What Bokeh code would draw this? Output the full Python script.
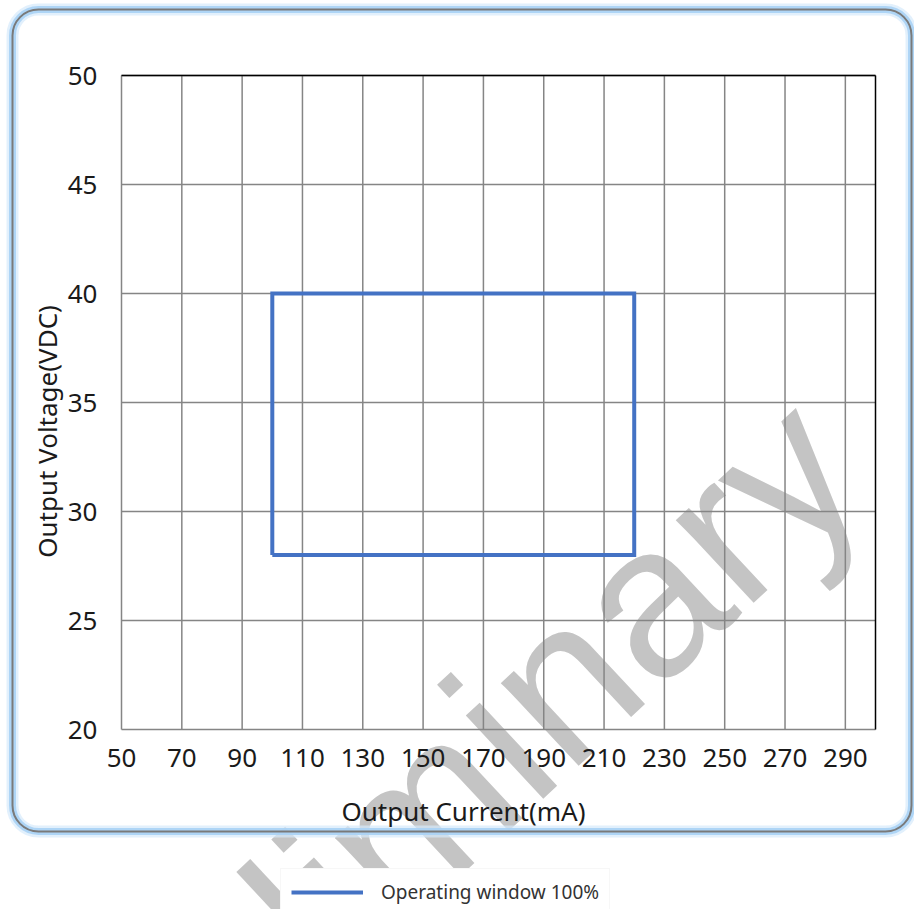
import math
from bokeh.plotting import figure
from bokeh.models import Range1d, FixedTicker, Label, BoxAnnotation
from bokeh.embed import file_html
from bokeh.resources import INLINE

# ---- data ----
x_ticks = [50, 70, 90, 110, 130, 150, 170, 190, 210, 230, 250, 270, 290]
y_ticks = [20, 25, 30, 35, 40, 45, 50]
x_limits = [50, 300]
y_limits = [20, 50]
window_current = [100, 100, 220, 220, 100]   # mA
window_voltage = [28, 40, 40, 28, 28]        # VDC
legend_text = "Operating window 100%"
x_title = "Output Current(mA)"
y_title = "Output Voltage(VDC)"
watermark = "Preliminary"

# ---- layout (pixel positions of the plotting area in the page) ----
W, H = 914, 909
FL, FR, FT, FB = 121, 875, 75, 729
X0, X1 = x_limits
Y0, Y1 = y_limits
sx = (X1 - X0) / (FR - FL)
sy = (Y1 - Y0) / (FB - FT)

def px_x(cx):
    return X0 + (cx - FL) * sx

def px_y(cy):
    return Y0 + (FB - cy) * sy

p = figure(width=W, height=H, output_backend="svg", toolbar_location=None,
           x_range=Range1d(px_x(0), px_x(W)), y_range=Range1d(px_y(H), px_y(0)),
           min_border=0)
p.background_fill_color = "white"
p.border_fill_color = "white"
p.outline_line_color = None
p.xgrid.visible = False
p.ygrid.visible = False

FONT = "Noto Sans"

xa, ya = p.xaxis[0], p.yaxis[0]
xa.fixed_location = Y0
ya.fixed_location = X0
for ax, ticks in ((xa, x_ticks), (ya, y_ticks)):
    ax.ticker = FixedTicker(ticks=ticks)
    ax.axis_line_color = None
    ax.major_tick_line_color = None
    ax.minor_tick_line_color = None
    ax.major_label_text_font = FONT
    ax.major_label_text_font_size = "26px"
    ax.major_label_text_color = "#1a1a1a"
xa.major_label_standoff = 13
ya.major_label_standoff = 18

# watermark (under everything)
p.add_layout(Label(x=px_x(36), y=px_y(1169), text=watermark, angle=math.radians(43),
                   text_font="Liberation Sans", text_font_size="215px",
                   text_color="#c4c4c4",
                   text_align="left", text_baseline="alphabetic", level="image"))

# rounded chart border with glow
for lw, col, alpha in ((12, "#d6e9fb", 0.7), (7, "#a9d2f5", 0.9), (2, "#7a7a7a", 1.0)):
    p.add_layout(BoxAnnotation(left=px_x(12), right=px_x(911), top=px_y(9), bottom=px_y(831),
                               fill_color=None, line_color=col, line_width=lw,
                               line_alpha=alpha, border_radius=26, level="underlay"))

# grid lines at the tick values
p.segment(x0=x_ticks, y0=[Y0] * len(x_ticks), x1=x_ticks, y1=[Y1] * len(x_ticks),
          line_color="#858585", line_width=1.5, level="underlay")
p.segment(x0=[X0] * len(y_ticks), y0=y_ticks, x1=[X1] * len(y_ticks), y1=y_ticks,
          line_color="#858585", line_width=1.5, level="underlay")
# top and right edges of the plotting area
p.segment(x0=[X0, X1], y0=[Y1, Y0], x1=[X1, X1], y1=[Y1, Y1],
          line_color="black", line_width=1.5, level="underlay")

# operating window
p.line(window_current, window_voltage, line_width=4, line_color="#4472C4",
       line_join="miter", legend_label=legend_text)

# axis titles
p.add_layout(Label(x=px_x(463), y=px_y(810), text=x_title, text_font=FONT,
                   text_font_size="26px", text_color="#1a1a1a",
                   text_align="center", text_baseline="alphabetic"))
p.add_layout(Label(x=px_x(46), y=px_y(431), text=y_title, text_font=FONT,
                   text_font_size="26px", text_color="#1a1a1a", angle=math.pi / 2,
                   text_align="center", text_baseline="alphabetic"))

# legend
lg = p.legend[0]
lg.location = (280, -7)
lg.label_text_font = FONT
lg.label_text_font_size = "19px"
lg.label_text_color = "#333333"
lg.glyph_width = 72
lg.glyph_height = 20
lg.label_height = 20
lg.label_standoff = 18
lg.padding = 10
lg.margin = 0
lg.border_line_color = "#f0f0f0"
lg.background_fill_color = "white"
lg.background_fill_alpha = 1.0

open("out.html", "w").write(file_html(p, INLINE))
